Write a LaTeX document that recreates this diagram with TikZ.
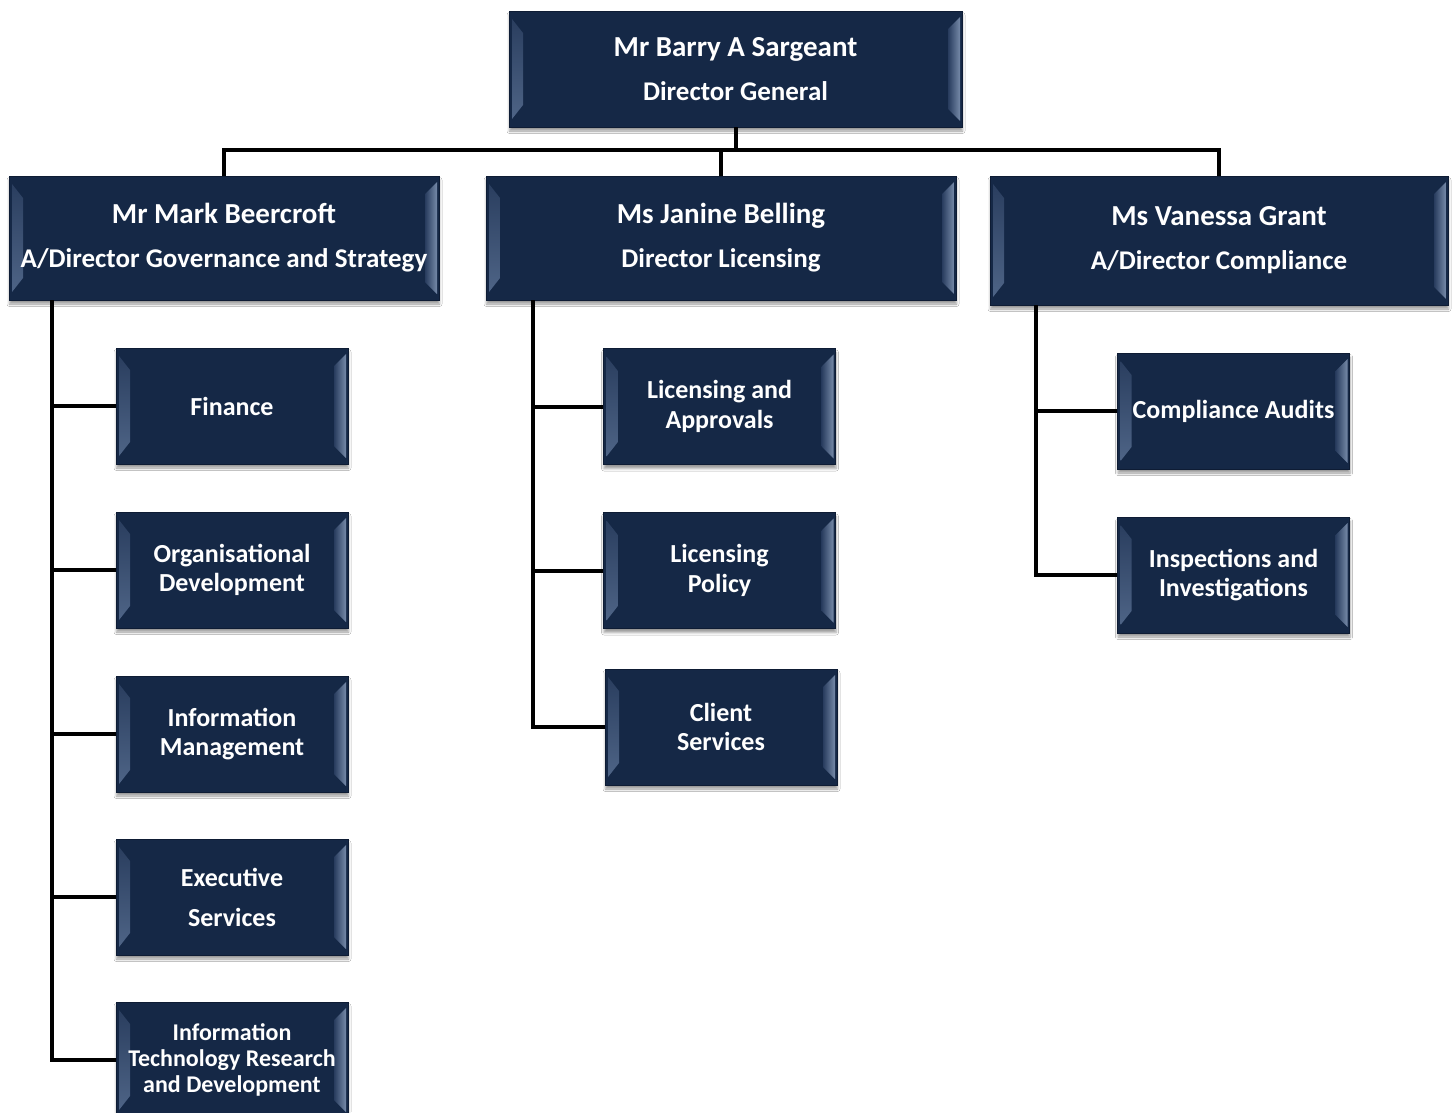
\documentclass[tikz,border=0pt]{standalone}
\usepackage{fontspec}
\setmainfont{Carlito}
\usetikzlibrary{calc,shadows.blur}
\definecolor{navy}{RGB}{21,40,70}
\definecolor{navyedge}{RGB}{14,28,52}
\definecolor{bevLa}{RGB}{42,62,95}
\definecolor{bevLb}{RGB}{78,100,134}
\definecolor{bevRa}{RGB}{40,60,94}
\definecolor{bevRb}{RGB}{118,138,168}
\tikzset{
  conn/.style={draw=black, line width=4pt},
  bevbox/.style 2 args={draw=navyedge, line width=0.6pt, fill=navy,
    minimum width=#1, minimum height=#2, inner sep=0pt,
    text=white, align=center,
    blur shadow={shadow xshift=0.5pt, shadow yshift=-4pt, shadow blur radius=2.5pt, shadow opacity=40},
    path picture={
      \coordinate (PNW) at (path picture bounding box.north west);
      \coordinate (PNE) at (path picture bounding box.north east);
      \coordinate (PSW) at (path picture bounding box.south west);
      \coordinate (PSE) at (path picture bounding box.south east);
      \shade[top color=bevLa, bottom color=bevLb] ($(PNW)+(3,8)$) -- ($(PNW)+(14,22)$) -- ($(PSW)+(14,-22)$) -- ($(PSW)+(3,-8)$) -- cycle;
      \shade[left color=bevRa, right color=bevRb] ($(PNE)+(-2,6)$) -- ($(PNE)+(-14,18)$) -- ($(PSE)+(-14,-18)$) -- ($(PSE)+(-2,-6)$) -- cycle;
    }},
  head/.style={font=\bfseries\fontsize{29}{44}\selectfont},
  child/.style={bevbox={232pt}{116pt}, font=\bfseries\fontsize{26}{29.5}\selectfont}
}
\newcommand{\subline}[1]{{\fontsize{27}{44}\selectfont #1}}
\begin{document}
\begin{tikzpicture}[x=1pt,y=-1pt]
\fill[white] (0,0) rectangle (1453,1112);
\useasboundingbox (0,0) rectangle (1453,1112);

% level 0 and 1
\node[bevbox={453pt}{116pt}, head] (top) at (735.5,69) {Mr Barry A Sargeant\\\subline{Director General}};
\node[bevbox={430pt}{124pt}, head] (L1) at (224,238) {Mr Mark Beercroft\\\subline{A/Director Governance and Strategy}};
\node[bevbox={470pt}{124pt}, head] (L2) at (721,238) {Ms Janine Belling\\\subline{Director Licensing}};
\node[bevbox={458pt}{129pt}, head] (L3) at (1219,240.5) {Ms Vanessa Grant\\\subline{A/Director Compliance}};

% left children
\node[child] (c1) at (232,406) {Finance};
\node[child] (c2) at (232,570) {Organisational\\Development};
\node[child] (c3) at (232,734) {Information\\Management};
\node[child, font=\bfseries\fontsize{26}{40}\selectfont] (c4) at (232,897) {Executive\\Services};
\node[child, font=\bfseries\fontsize{24}{26}\selectfont] (c5) at (232,1060) {Information\\Technology Research\\and Development};

% middle children
\node[child] (m1) at (719.5,406.5) {Licensing and\\Approvals};
\node[child] (m2) at (719.5,570.5) {Licensing\\Policy};
\node[child] (m3) at (721,727) {Client\\Services};

% right children
\node[child] (r1) at (1233.5,411) {Compliance Audits};
\node[child] (r2) at (1233.5,575) {Inspections and\\Investigations};

% connectors
\coordinate (bus) at (735.5,150);
\draw[conn] (top.south) -- (bus);
\draw[conn] (L1.north) |- (bus) -| (L3.north);
\draw[conn] (L2.north) -- (L2.north |- bus);

\coordinate (ls) at ($(L1.south west)+(43,0)$);
\draw[conn] (ls) |- (c5.west);
\foreach \c in {c1,c2,c3,c4} \draw[conn] (\c.west) -- (\c.west -| ls);

\coordinate (ms) at ($(L2.south west)+(47,0)$);
\draw[conn] (ms) |- (m3.west);
\foreach \c in {m1,m2} \draw[conn] (\c.west) -- (\c.west -| ms);

\coordinate (rs) at ($(L3.south west)+(46,0)$);
\draw[conn] (rs) |- (r2.west);
\draw[conn] (r1.west) -- (r1.west -| rs);
\end{tikzpicture}
\end{document}
